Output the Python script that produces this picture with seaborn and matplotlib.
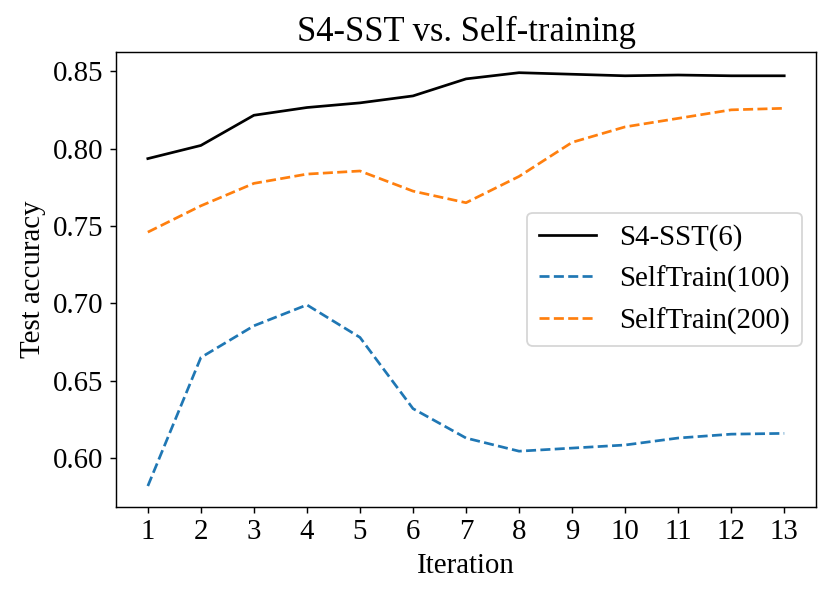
import numpy as np
import pandas as pd
import matplotlib
matplotlib.use("Agg")
import matplotlib.pyplot as plt
import seaborn as sns

# values
iterations = list(range(1, 14))
s4_sst = [0.7935, 0.802, 0.8215, 0.8265, 0.8295, 0.834, 0.845, 0.849, 0.848, 0.847, 0.8475, 0.847, 0.847]
self100 = [0.582, 0.665, 0.6855, 0.699, 0.678, 0.632, 0.613, 0.6045, 0.6065, 0.6085, 0.613, 0.6155, 0.616]
self200 = [0.746, 0.763, 0.7775, 0.7835, 0.7855, 0.7725, 0.765, 0.782, 0.804, 0.814, 0.8195, 0.825, 0.826]

series_names = ["S4-SST(6)", "SelfTrain(100)", "SelfTrain(200)"]
colors = ["black", "#1f77b4", "#ff7f0e"]
styles = ["-", "--", "--"]

plt.rcParams["font.family"] = ["Liberation Serif", "DejaVu Serif"]
plt.rcParams["font.size"] = 16

fig = plt.figure(figsize=(831 / 130, 598 / 130), dpi=130)
ax = fig.add_axes([0.1396, 0.1527, 0.8424, 0.7603])

for name, vals, c, ls in zip(series_names, [s4_sst, self100, self200], colors, styles):
    df = pd.DataFrame({"Iteration": iterations, "acc": vals})
    sns.lineplot(data=df, x="Iteration", y="acc", ax=ax, color=c, linestyle=ls,
                 linewidth=1.5, label=name)

ax.set_xticks(iterations)
ax.tick_params(labelsize=16)
ax.set_xlabel("Iteration", fontsize=16)
ax.set_ylabel("Test accuracy", fontsize=16)
ax.set_title("S4-SST vs. Self-training", fontsize=19.2)
ax.legend(loc="center right", fontsize=16)

fig.savefig("out.png", dpi=130)
